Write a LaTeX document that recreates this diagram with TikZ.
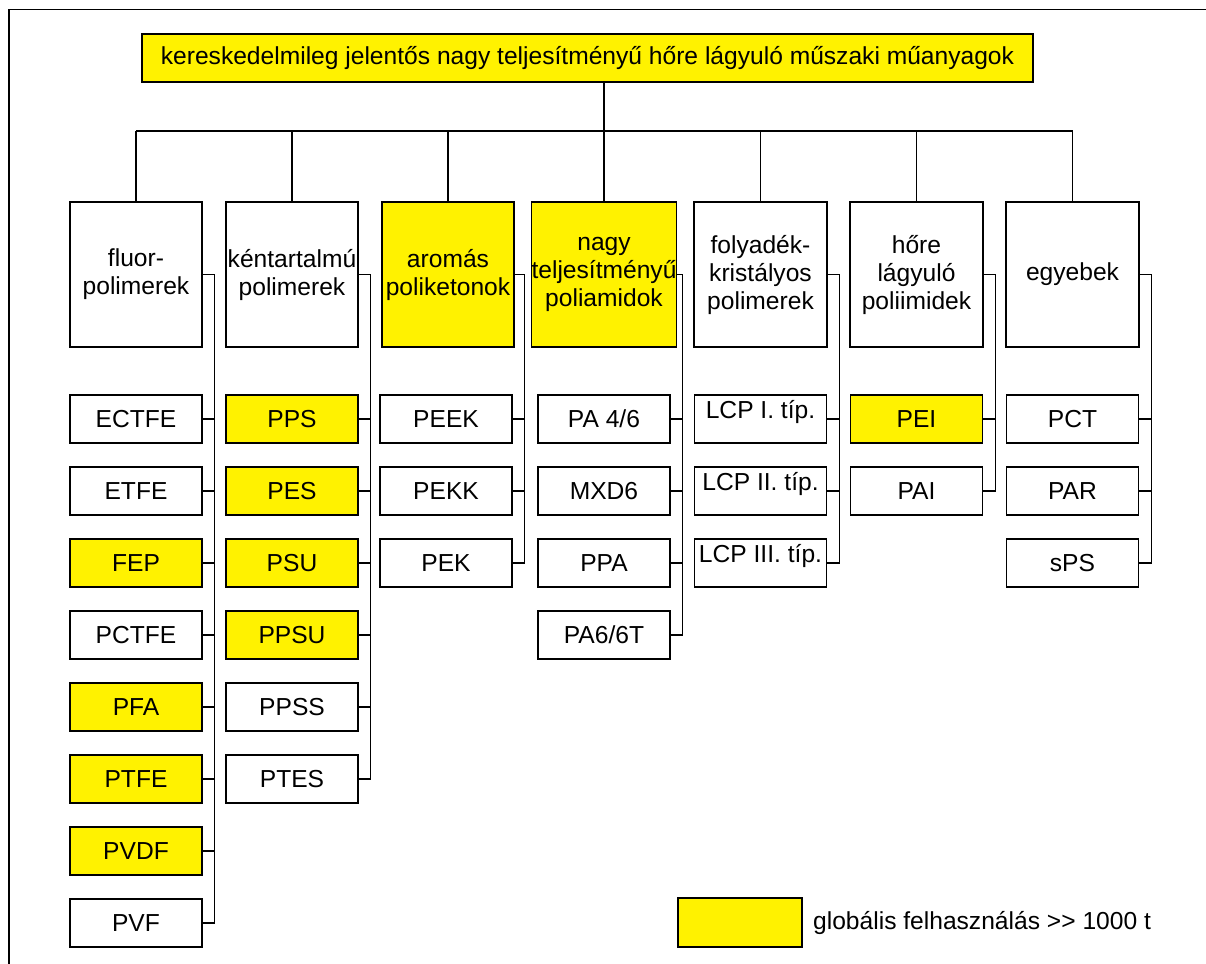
\documentclass[tikz,border=0pt]{standalone}
\usepackage{fontspec}
\setmainfont{Liberation Sans}
\usetikzlibrary{calc,positioning}
\tikzset{
  box/.style={draw, line width=0.75pt, inner sep=0pt, align=center, font=\fontsize{12.3}{14}\selectfont},
  leaf/.style={box, minimum width=66pt, minimum height=24pt, text height=10pt, text depth=1.4pt},
  cat/.style={box, minimum height=72.5pt},
  wire/.style={line width=0.7pt}
}
\begin{document}
\begin{tikzpicture}[x=0.5pt, y=-0.5pt]
        \useasboundingbox (0,0) rectangle (1206,964);
        \draw[wire] (9,964) -- (9,9.5) -- (1206,9.5);
        \node[box, fill=yellow, minimum width=445.5pt, minimum height=24pt] (title) at (587.5,58)
            {kereskedelmileg jelentős nagy teljesítményű hőre lágyuló műszaki műanyagok};
        \coordinate (bus) at (0,131);
        % main groups
        \foreach \name/\cx/\bw/\bg/\txt in {
            fl/136/66/white/{fluor-\\polimerek},
            ken/292/66/white/{kéntartalmú\\polimerek},
            aro/448/66/yellow/{aromás\\poliketonok},
            nagy/604/72/yellow/{nagy\\teljesítményű\\poliamidok},
            fol/760.5/66.5/white/{folyadék-\\kristályos\\polimerek},
            hore/916.5/66.5/white/{hőre\\lágyuló\\poliimidek},
            egy/1072.5/66.5/white/{egyebek}} {
            \node[cat, fill=\bg, minimum width=\bw pt] (\name) at (\cx,274.5) {\txt};
            \draw[wire] (\name.north) -- (\name.north |- bus);}
        \draw[wire] (fl.north |- bus) -- (egy.north |- bus);
        \draw[wire] (title.south -| nagy.north) -- (nagy.north |- bus);
        % members of a group, hung on a rail right of the boxes
        \newcommand*\members[3]{%
            \foreach \lbl/\bg [count=\i] in {#3} {
                \node[leaf, fill=\bg] (#1\i) at (#2, {419+72*(\i-1)}) {\lbl};
                \draw[wire] (#1\i.east) -- ++(12,0) |- (#1.east);}}
        \members{fl}{136}{ECTFE/white, ETFE/white, FEP/yellow, PCTFE/white, PFA/yellow, PTFE/yellow, PVDF/yellow, PVF/white}
        \members{ken}{292}{PPS/yellow, PES/yellow, PSU/yellow, PPSU/yellow, PPSS/white, PTES/white}
        \members{aro}{446}{PEEK/white, PEKK/white, PEK/white}
        \members{nagy}{604}{{PA 4/6}/white, MXD6/white, PPA/white, {PA6/6T}/white}
        \members{fol}{760.5}{{\raisebox{4.5pt}{LCP I. típ.}}/white, {\raisebox{4.5pt}{LCP II. típ.}}/white, {\raisebox{4.5pt}{LCP III. típ.}}/white}
        \members{hore}{916.5}{PEI/yellow, PAI/white}
        \members{egy}{1072.5}{PCT/white, PAR/white, sPS/white}
        % legend
        \node[box, fill=yellow, minimum width=62pt, minimum height=24.5pt] (key) at (740,922.5) {};
        \node[right=5pt of key, inner sep=0pt, font=\fontsize{12.3}{14}\selectfont] (keytext) {globális felhasználás >{}> 1000 t};
\end{tikzpicture}
\end{document}
